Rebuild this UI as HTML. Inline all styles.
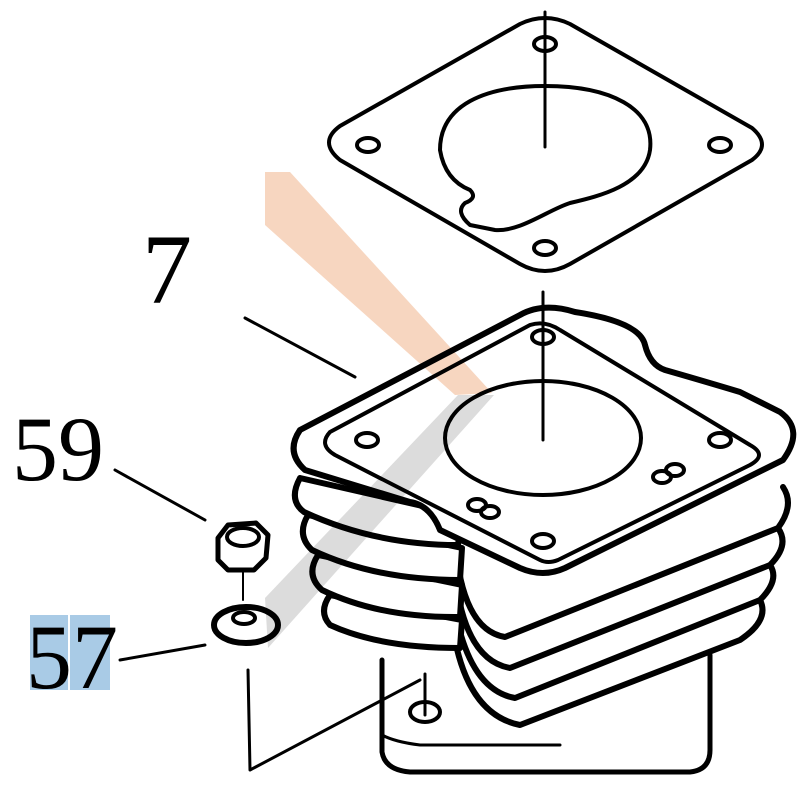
<!DOCTYPE html>
<html><head><style>html,body{margin:0;padding:0;background:#fff;}svg{display:block}</style></head>
<body>
<svg width="800" height="800" viewBox="0 0 800 800" xmlns="http://www.w3.org/2000/svg">
<rect width="800" height="800" fill="#fff"/>
<g fill="none" stroke="#000" stroke-linecap="round" stroke-linejoin="round">
<path d="M520,24 Q545,12 570,24 L752,128 Q772,145 752,160 L570,264 Q545,278 520,264 L340,160 Q318,142 340,126 Z" stroke-width="4" fill="#fff"/>
<ellipse cx="545" cy="44" rx="11" ry="7" stroke-width="4"/>
<ellipse cx="368" cy="145" rx="11" ry="7" stroke-width="4"/>
<ellipse cx="720" cy="145" rx="11" ry="7" stroke-width="4"/>
<ellipse cx="545" cy="248" rx="11" ry="7" stroke-width="4"/>
<path d="M545,86 C610,86 655,108 650,150 C645,185 600,196 570,203 C548,210 520,232 495,230 L470,225 Q455,212 465,203 Q478,198 470,190 Q445,180 440,150 C440,105 485,86 545,86 Z" stroke-width="4"/>
<line x1="545" y1="12" x2="545" y2="147" stroke-width="3"/>
<path d="M382,660 L382,752 Q385,770 410,772 L690,772 Q710,770 710,750 L710,655" stroke-width="5" fill="#fff"/>
<path d="M382,735 Q395,742 420,745 L560,745" stroke-width="3"/>
<ellipse cx="425" cy="712" rx="15" ry="10" stroke-width="4"/>
<line x1="425" y1="674" x2="425" y2="715" stroke-width="3"/>
<path d="M455,640 Q470,715 520,725 L740,640 Q770,620 760,600" stroke-width="6" fill="#fff"/>
<path d="M455,610 Q470,690 515,698 L760,600 Q780,580 770,565" stroke-width="6" fill="#fff"/>
<path d="M455,575 Q465,660 510,668 L770,565 Q790,545 778,528" stroke-width="6" fill="#fff"/>
<path d="M455,540 Q462,630 505,637 L778,528 Q795,505 783,487" stroke-width="6" fill="#fff"/>
<path d="M330,595 Q318,612 330,625 Q380,648 460,648 L462,620 L330,595" stroke-width="6" fill="#fff"/>
<path d="M318,555 Q305,575 322,590 Q380,618 460,617 L462,585 L318,555" stroke-width="6" fill="#fff"/>
<path d="M308,515 Q296,535 312,550 Q375,580 460,580 L462,548 L308,515" stroke-width="6" fill="#fff"/>
<path d="M300,478 Q288,500 304,512 Q375,545 458,545 L462,515 L300,478" stroke-width="6" fill="#fff"/>
<path d="M520,315 Q543,302 575,312 Q640,322 645,345 Q650,365 665,370 Q700,380 740,392 L780,412 Q805,430 783,460 L565,568 Q543,578 520,568 L440,530 Q430,505 410,502 L305,470 Q285,452 300,430 Z" stroke-width="6" fill="#fff"/>
<path d="M530,325 L330,432 Q318,445 335,455 L540,560 Q548,564 558,560 L750,465 Q768,455 750,445 L560,330 Q545,320 530,325 Z" stroke-width="4"/>
<ellipse cx="543" cy="438" rx="98" ry="57" stroke-width="4"/>
<line x1="543" y1="292" x2="543" y2="440" stroke-width="3"/>
<ellipse cx="543" cy="337" rx="11" ry="7" stroke-width="4"/>
<ellipse cx="367" cy="440" rx="11" ry="7" stroke-width="4"/>
<ellipse cx="720" cy="440" rx="11" ry="7" stroke-width="4"/>
<ellipse cx="543" cy="541" rx="11" ry="7" stroke-width="4"/>
<ellipse cx="662" cy="477" rx="9" ry="6" stroke-width="4"/>
<ellipse cx="675" cy="470" rx="9" ry="6" stroke-width="4"/>
<ellipse cx="477" cy="505" rx="9" ry="6" stroke-width="4"/>
<ellipse cx="490" cy="512" rx="9" ry="6" stroke-width="4"/>
<line x1="245" y1="318" x2="355" y2="377" stroke-width="3"/>
<line x1="115" y1="470" x2="205" y2="520" stroke-width="3"/>
<line x1="120" y1="660" x2="205" y2="645" stroke-width="3"/>
<polyline points="248,670 250,770 420,680" stroke-width="3"/>
<path d="M218,538 L228,525 L256,523 L268,535 L266,558 L254,570 L228,570 L218,560 Z" stroke-width="5" fill="#fff"/>
<ellipse cx="243" cy="537" rx="16" ry="9" stroke-width="4"/>
<line x1="243" y1="570" x2="243" y2="600" stroke-width="2"/>
<ellipse cx="246" cy="625" rx="32" ry="18" stroke-width="6" fill="#fff"/>
<ellipse cx="244" cy="618" rx="11" ry="6" stroke-width="4"/>
</g>
<g style="mix-blend-mode:multiply">
<polygon points="265,172 290,172 492,393 455,395 265,225" fill="#f7d6c0"/>
<polygon points="265,598 458,395 494,395 268,648" fill="#dcdcdc"/>
</g>
<rect x="30" y="615" width="38" height="75" fill="#a9cbe6"/>
<rect x="70" y="615" width="40" height="75" fill="#a9cbe6"/>
<g font-family="Liberation Serif, serif" fill="#000">
<text x="142" y="303" font-size="100">7</text>
<text x="12" y="480" font-size="92">59</text>
<text x="26" y="688" font-size="92">57</text>
</g>
</svg>
</body></html>
